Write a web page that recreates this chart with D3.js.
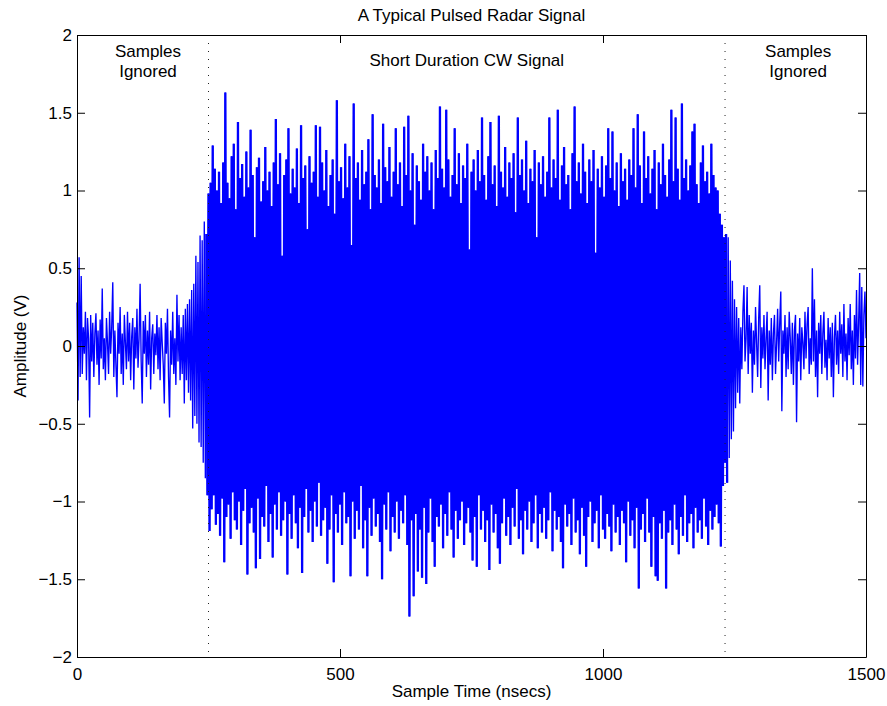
<!DOCTYPE html>
<html lang="en">
<head>
    <meta charset="UTF-8">
    <title>A Typical Pulsed Radar Signal</title>
    <script src="https://cdn.jsdelivr.net/npm/d3@7"></script>
    <style>
        body{
            margin: 0;
            background: #fff;
            font-family: "Liberation Sans", Arial, Helvetica, sans-serif;
        }
        svg{
            display: block;
        }
        .signal{
            stroke: #0000ff;
            stroke-width: 1.35px;
            fill: none;
        }
        .signal.dense{
            stroke-width: 2.3px;
        }
        .marker{
            stroke: #222;
            stroke-width: 1px;
            stroke-dasharray: 1,7;
        }
        .axis path, .axis line{
            stroke: #000;
        }
        .axis text{
            font-size: 17px;
            fill: #000;
            font-family: "Liberation Sans", Arial, Helvetica, sans-serif;
        }
        .lbl{
            font-size: 17px;
            fill: #000;
            text-anchor: middle;
        }
    </style>
</head>

<body>
    <script>
        // samples 0..248, every 2nd sample (noise before the pulse)
        const noiseBefore = [
            0.28,-0.35,0.57,-0.20,0.45,-0.18,0.12,-0.05,0.22,-0.22,
            0.18,0.05,-0.46,0.20,-0.10,0.15,-0.20,0.08,0.21,-0.12,
            0.10,-0.25,0.17,-0.08,0.37,-0.15,0.05,-0.22,0.18,0.02,
            -0.18,0.22,-0.05,0.12,0.41,-0.20,0.10,-0.12,-0.33,0.15,
            -0.05,0.25,-0.18,0.08,-0.25,0.20,0.02,-0.15,0.22,-0.10,
            0.15,-0.22,0.06,0.18,-0.28,0.12,-0.08,0.24,-0.14,0.05,
            0.40,-0.10,-0.37,0.16,-0.05,0.20,-0.20,0.10,-0.12,0.22,
            -0.28,0.05,0.14,-0.18,0.08,-0.06,0.20,-0.15,0.12,-0.22,
            0.18,0.02,-0.12,-0.37,0.15,-0.05,0.24,-0.20,-0.46,0.10,
            -0.12,0.22,-0.18,0.05,-0.25,0.33,-0.10,0.20,-0.22,0.12,
            -0.18,0.20,-0.37,0.24,-0.22,0.27,-0.30,0.30,-0.35,0.36,
            -0.53,0.40,-0.45,0.58,-0.50,0.54,-0.62,0.71,-0.65,0.68,
            -0.75,0.80,-0.85,0.72,-0.96
        ];

        // CW pulse: positive peaks at samples 250,254,...  troughs at 252,256,...
        const pulsePeaks = [
            0.98,1.05,1.29,1.14,1.00,1.12,0.92,1.18,1.63,1.05,
            0.95,1.22,1.30,0.88,1.44,1.08,1.17,0.96,1.25,1.02,
            1.39,1.10,0.70,1.15,1.21,0.93,1.06,1.28,1.00,1.12,
            0.90,1.18,1.46,1.04,1.24,0.58,1.10,1.20,1.40,0.98,
            1.14,1.02,1.27,0.92,1.42,1.08,1.16,0.75,1.22,1.05,
            1.12,1.42,0.96,1.41,1.18,1.00,1.26,0.90,1.10,1.20,
            0.85,1.58,1.06,1.15,0.95,1.30,1.02,1.22,0.65,1.56,
            1.08,1.18,0.94,1.26,1.04,1.12,1.33,0.88,1.49,1.10,
            1.02,1.20,0.92,1.43,1.15,1.06,1.28,0.96,1.12,1.40,
            1.04,1.18,0.90,1.41,1.10,1.48,1.00,1.24,0.78,1.16,
            1.06,0.94,1.30,1.12,1.22,1.00,1.18,0.88,1.26,1.08,
            1.54,1.14,1.02,1.52,1.20,0.96,1.10,1.40,1.04,1.24,
            0.92,1.16,1.08,1.30,0.62,1.12,1.20,1.00,1.26,1.06,
            1.47,1.10,0.94,1.22,1.44,1.04,1.16,0.90,1.48,1.12,
            1.02,1.28,0.96,1.18,1.08,1.24,0.86,1.47,1.10,1.20,
            1.00,1.32,0.92,1.14,1.06,1.26,0.70,1.18,1.04,1.22,
            0.96,1.12,1.47,1.02,1.20,1.08,1.52,0.94,1.16,1.28,
            1.04,1.10,0.88,1.24,1.54,1.06,1.18,0.98,1.30,1.12,
            0.92,1.20,1.06,1.26,0.60,1.14,1.02,1.22,0.96,1.16,
            1.40,1.08,1.38,1.00,1.18,0.90,1.24,1.06,1.14,0.94,
            1.20,1.10,1.40,1.02,1.49,1.16,0.92,1.38,1.08,1.22,
            0.98,1.14,1.26,0.88,1.18,1.04,1.30,1.10,0.96,1.20,
            1.52,1.06,1.47,1.14,0.94,1.56,1.08,1.20,1.00,1.16,
            1.38,1.43,1.04,0.92,1.18,1.29,1.06,1.12,0.98,1.30,
            1.10,1.02,1.00,0.85,0.78,0.70
        ];
        const pulseTroughs = [
            -1.19,-1.05,-0.96,-1.15,-1.08,-1.22,-0.98,-1.39,-1.10,-1.02,
            -1.24,-0.94,-1.12,-1.18,-1.00,-1.28,-1.06,-0.92,-1.47,-1.14,
            -1.04,-1.20,-1.43,-0.98,-1.37,-1.10,-1.16,-0.90,-1.26,-1.08,
            -1.36,-1.02,-1.18,-0.94,-1.22,-1.12,-1.00,-1.47,-1.08,-1.24,
            -0.96,-1.14,-1.30,-1.04,-1.46,-1.10,-0.92,-1.20,-1.06,-1.26,
            -1.00,-1.16,-0.88,-1.22,-1.12,-1.04,-1.40,-1.18,-0.96,-1.52,
            -1.08,-1.20,-1.02,-1.28,-0.94,-1.14,-1.10,-1.48,-1.00,-1.24,
            -1.06,-1.18,-0.90,-1.30,-1.12,-1.48,-1.04,-1.22,-0.98,-1.16,
            -1.08,-1.26,-1.50,-1.02,-1.18,-0.94,-1.32,-1.10,-1.20,-1.00,
            -1.24,-1.06,-1.14,-0.96,-1.28,-1.74,-1.12,-1.61,-1.08,-1.45,
            -1.18,-1.49,-1.04,-1.53,-1.20,-0.98,-1.26,-1.42,-1.10,-1.16,
            -1.02,-1.30,-1.08,-1.22,-0.94,-1.18,-1.36,-1.06,-1.24,-1.12,
            -1.00,-1.28,-1.14,-1.04,-1.20,-1.38,-1.10,-1.42,-0.96,-1.18,
            -1.06,-1.26,-1.12,-1.44,-1.02,-1.20,-1.08,-1.30,-1.40,-1.14,
            -0.98,-1.22,-1.10,-1.28,-1.04,-1.16,-0.92,-1.24,-1.12,-1.34,
            -1.06,-1.18,-1.00,-1.26,-1.14,-0.96,-1.30,-1.08,-1.20,-1.04,
            -1.24,-1.12,-0.94,-1.32,-1.06,-1.18,-1.10,-1.26,-1.43,-1.02,
            -1.16,-1.08,-1.28,-0.98,-1.20,-1.12,-1.34,-1.04,-1.22,-1.42,
            -1.10,-1.00,-1.26,-1.14,-1.06,-1.30,-0.96,-1.18,-1.24,-1.08,
            -1.16,-1.32,-1.02,-1.20,-1.10,-1.28,-1.06,-1.14,-1.39,-1.00,
            -1.22,-1.12,-1.30,-1.04,-1.56,-1.18,-1.08,-1.26,-0.98,-1.20,
            -1.42,-1.10,-1.48,-1.51,-1.14,-1.24,-1.06,-1.56,-1.20,-1.12,
            -1.28,-1.02,-1.18,-1.34,-1.10,-1.22,-0.96,-1.26,-1.14,-1.08,
            -1.30,-1.04,-1.20,-1.12,-1.24,-0.98,-1.16,-1.28,-1.06,-1.18,
            -1.10,-1.02,-1.14,-1.29,-0.90,-0.75
        ];

        // samples 1234..1500, every 2nd sample (noise after the pulse)
        const noiseAfter = [
            0.72,-0.88,0.70,-0.72,0.55,-0.60,0.42,-0.55,0.30,-0.40,
            0.25,-0.30,0.18,-0.37,0.12,-0.15,0.22,0.39,-0.10,0.05,
            0.38,-0.18,0.20,-0.05,0.15,-0.30,0.10,-0.12,0.25,0.02,
            -0.20,0.18,0.39,-0.27,0.12,-0.08,0.20,-0.15,0.05,0.22,
            -0.35,0.10,-0.12,0.18,-0.22,0.08,0.20,-0.18,0.02,0.24,
            -0.10,0.15,0.35,-0.42,0.10,-0.05,0.20,-0.20,0.12,-0.15,
            0.22,0.05,-0.18,0.15,-0.25,0.10,0.20,-0.49,0.08,-0.10,
            0.18,-0.22,0.12,0.02,-0.15,0.22,-0.08,0.14,0.25,-0.18,
            0.05,-0.12,0.50,-0.10,0.30,-0.20,0.10,-0.33,0.15,-0.05,
            0.20,-0.18,0.08,0.22,-0.14,0.04,-0.22,0.18,-0.08,0.12,
            -0.20,0.15,-0.33,0.06,0.20,-0.12,0.10,-0.18,0.22,-0.05,
            0.14,-0.20,0.27,-0.10,0.08,-0.22,0.18,-0.06,0.27,-0.15,
            0.10,-0.25,0.20,-0.08,0.36,-0.12,0.15,0.47,-0.25,0.38,
            -0.26,0.20,0.35,0.05
        ];

        const pulseStart = 250;
        const pulseEnd = 1232;
        const xTicks = [0, 500, 1000, 1500];
        const yTicks = [-2, -1.5, -1, -0.5, 0, 0.5, 1, 1.5, 2];

        // step 1 build the sample table
        let samples = [];
        noiseBefore.forEach((v, i) => samples.push({t: i * 2, v: v}));
        pulsePeaks.forEach((v, j) => {
            samples.push({t: pulseStart + j * 4, v: v});
            samples.push({t: pulseStart + 2 + j * 4, v: pulseTroughs[j]});
        });
        noiseAfter.forEach((v, i) => samples.push({t: 1234 + i * 2, v: v}));

        // step 2 svg + scales
        const width = 887, height = 706;
        const margins = {top: 35, bottom: 49, left: 77, right: 21};

        let svg = d3.select("body").append("svg")
            .attr("width", width)
            .attr("height", height);

        let xScale = d3.scaleLinear()
            .domain([0, 1500])
            .range([margins.left, width - margins.right]);
        let yScale = d3.scaleLinear()
            .domain([-2, 2])
            .range([height - margins.bottom, margins.top]);

        // step 3 signal line (pulse part drawn again, thicker, so it reads solid)
        let line = d3.line()
            .x(d => xScale(d.t))
            .y(d => yScale(d.v));

        svg.append("path")
            .datum(samples)
            .attr("class", "signal")
            .attr("d", line);

        svg.append("path")
            .datum(samples.filter(d => d.t >= pulseStart - 4 && d.t <= pulseEnd + 4))
            .attr("class", "signal dense")
            .attr("d", line);

        // step 4 dotted markers at pulse edges
        svg.selectAll(".marker")
            .data([pulseStart, pulseEnd])
            .enter()
            .append("line")
            .attr("class", "marker")
            .attr("x1", d => xScale(d))
            .attr("x2", d => xScale(d))
            .attr("y1", yScale(2))
            .attr("y2", yScale(-2));

        // step 5 axes (box with inward ticks, like matlab)
        const fmt = d3.format("");
        svg.append("g").attr("class", "axis")
            .attr("transform", `translate(0, ${height - margins.bottom})`)
            .call(d3.axisBottom(xScale).tickValues(xTicks).tickFormat(fmt)
                .tickSizeInner(-8).tickSizeOuter(0).tickPadding(11));
        svg.append("g").attr("class", "axis")
            .attr("transform", `translate(0, ${margins.top})`)
            .call(d3.axisTop(xScale).tickValues(xTicks).tickFormat("")
                .tickSizeInner(-8).tickSizeOuter(0));
        svg.append("g").attr("class", "axis")
            .attr("transform", `translate(${margins.left}, 0)`)
            .call(d3.axisLeft(yScale).tickValues(yTicks).tickFormat(fmt)
                .tickSizeInner(-8).tickSizeOuter(0).tickPadding(5));
        svg.append("g").attr("class", "axis")
            .attr("transform", `translate(${width - margins.right}, 0)`)
            .call(d3.axisRight(yScale).tickValues(yTicks).tickFormat("")
                .tickSizeInner(-8).tickSizeOuter(0));
        svg.selectAll(".axis .tick text").text(function(){
            return this.textContent.replace("-", "\u2212");
        });

        // step 6 titles and notes
        svg.append("text").attr("class", "lbl")
            .attr("x", (margins.left + width - margins.right) / 2)
            .attr("y", 21)
            .text("A Typical Pulsed Radar Signal");
        svg.append("text").attr("class", "lbl")
            .attr("x", (margins.left + width - margins.right) / 2)
            .attr("y", 697)
            .text("Sample Time (nsecs)");
        svg.append("text").attr("class", "lbl")
            .attr("transform", `translate(26, ${yScale(0)}) rotate(-90)`)
            .text("Amplitude (V)");

        const notes = [
            {t: 135, v: 1.86, lines: ["Samples", "Ignored"]},
            {t: 741, v: 1.8, lines: ["Short Duration CW Signal"]},
            {t: 1371, v: 1.86, lines: ["Samples", "Ignored"]}
        ];
        notes.forEach(n => {
            n.lines.forEach((s, i) => {
                svg.append("text").attr("class", "lbl")
                    .attr("x", xScale(n.t))
                    .attr("y", yScale(n.v) + i * 20)
                    .text(s);
            });
        });
    </script>
</body>
</html>
